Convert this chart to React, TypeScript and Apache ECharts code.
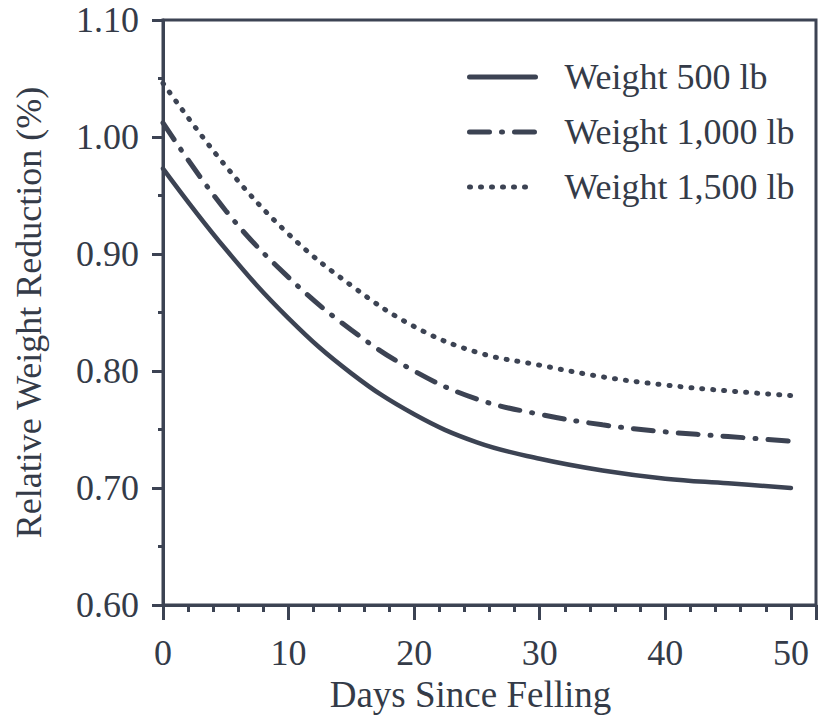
import React, { useEffect, useRef } from "react";
import * as echarts from "echarts";

const days = [0, 5, 10, 15, 20, 25, 30, 35, 40, 45, 50];
const weight500 = [0.973, 0.904, 0.845, 0.798, 0.763, 0.739, 0.725, 0.715, 0.708, 0.704, 0.700];
const weight1000 = [1.012, 0.937, 0.880, 0.835, 0.800, 0.776, 0.763, 0.754, 0.748, 0.744, 0.740];
const weight1500 = [1.046, 0.975, 0.917, 0.873, 0.838, 0.816, 0.805, 0.795, 0.788, 0.783, 0.779];
const seriesNames = ["Weight 500 lb", "Weight 1,000 lb", "Weight 1,500 lb"];
const xTitle = "Days Since Felling";
const yTitle = "Relative Weight Reduction (%)";

const INK = "#3c4353";
const TEXT = "#343b48";
const FONT = '"Liberation Serif", "Times New Roman", serif';

export default function App() {
  const ref = useRef<HTMLDivElement>(null);
  useEffect(() => {
    if (!ref.current) return;
    const chart = echarts.init(ref.current, undefined, { renderer: "svg" });
    const pairs = (vals: number[]) => days.map((d, i) => [d, vals[i]]);
    chart.setOption({
      animation: false,
      backgroundColor: "#ffffff",
      textStyle: { fontFamily: FONT, color: TEXT },
      grid: {
        left: 163,
        top: 20,
        right: 4,
        bottom: 111,
        show: true,
        borderColor: INK,
        borderWidth: 3,
        backgroundColor: "transparent",
        containLabel: false,
        outerBoundsMode: "none",
      },
      legend: {
        orient: "vertical",
        left: 462,
        top: 54,
        itemWidth: 66,
        itemHeight: 14,
        itemGap: 19,
        data: seriesNames,
        itemStyle: { opacity: 0 },
        lineStyle: { width: 5 },
        textStyle: {
          fontFamily: FONT,
          fontSize: 36,
          color: TEXT,
          padding: [0, 0, 0, 24],
        },
      },
      xAxis: {
        type: "value",
        min: 0,
        max: 52,
        interval: 10,
        name: xTitle,
        nameLocation: "middle",
        nameGap: 66,
        nameTextStyle: {
          fontFamily: FONT,
          fontSize: 37,
          color: TEXT,
          padding: [0, 38, 0, 0],
        },
        axisLine: { show: true, onZero: false, lineStyle: { color: INK, width: 3 } },
        axisTick: { show: true, length: 15, lineStyle: { color: INK, width: 3 } },
        minorTick: { show: true, splitNumber: 5, length: 7, lineStyle: { color: INK, width: 3 } },
        splitLine: { show: false },
        axisLabel: {
          fontFamily: FONT,
          fontSize: 36,
          color: TEXT,
          margin: 30,
          formatter: (v: number) => (v % 10 === 0 && v <= 50 ? String(v) : ""),
        },
      },
      yAxis: {
        type: "value",
        min: 0.6,
        max: 1.1,
        interval: 0.1,
        name: yTitle,
        nameLocation: "middle",
        nameRotate: 90,
        nameGap: 116,
        nameTextStyle: { fontFamily: FONT, fontSize: 36, color: TEXT },
        axisLine: { show: true, onZero: false, lineStyle: { color: INK, width: 3 } },
        axisTick: { show: true, length: 11, lineStyle: { color: INK, width: 3 } },
        minorTick: { show: true, splitNumber: 2, length: 5, lineStyle: { color: INK, width: 3 } },
        splitLine: { show: false },
        axisLabel: {
          fontFamily: FONT,
          fontSize: 36,
          color: TEXT,
          margin: 24,
          formatter: (v: number) => v.toFixed(2),
        },
      },
      series: [
        {
          name: seriesNames[0],
          type: "line",
          data: pairs(weight500),
          smooth: 0.4,
          symbol: "none",
          lineStyle: { color: INK, width: 4.5, type: "solid", cap: "round" },
          itemStyle: { color: INK },
        },
        {
          name: seriesNames[1],
          type: "line",
          data: pairs(weight1000),
          smooth: 0.4,
          symbol: "none",
          lineStyle: { color: INK, width: 5, type: [20, 12, 1, 12], cap: "round" },
          itemStyle: { color: INK },
        },
        {
          name: seriesNames[2],
          type: "line",
          data: pairs(weight1500),
          smooth: 0.4,
          symbol: "none",
          lineStyle: { color: INK, width: 5, type: [1, 10], cap: "round" },
          itemStyle: { color: INK },
        },
      ],
    });
    return () => chart.dispose();
  }, []);
  return <div ref={ref} style={{ width: 820, height: 716, position: "absolute", left: 0, top: 0 }} />;
}
